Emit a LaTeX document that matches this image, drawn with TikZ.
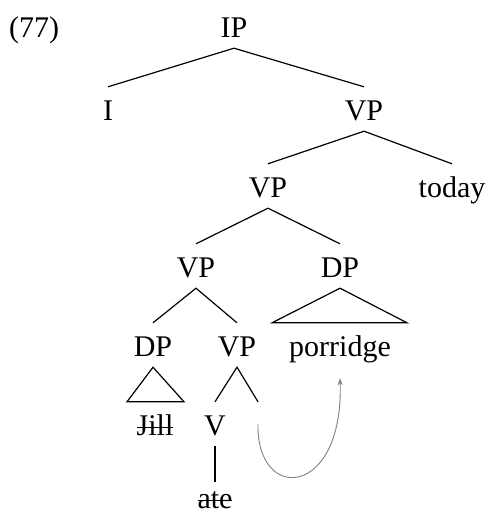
\documentclass[tikz,border=0pt]{standalone}
\usepackage{fontspec}
\setmainfont{Liberation Serif}
\usetikzlibrary{arrows.meta,calc}
% struck-through word
\newcommand{\strk}[1]{\setbox0\hbox{#1}\rlap{\rule[0.23em]{\wd0}{1pt}}\box0}
\tikzset{
  lbl/.style={anchor=base, inner xsep=0pt, inner ysep=11pt,
    text height=22pt, text depth=0pt,
    font=\fontsize{30}{36}\selectfont},
  branch/.style={line width=1.2pt, black},
  movement/.style={line width=0.9pt, draw={rgb,255:red,128;green,128;blue,128},
    -{Stealth[length=7pt,width=5pt]}},
}
\begin{document}
\begin{tikzpicture}[x=1pt,y=-1pt]
\useasboundingbox (0,0) rectangle (490,514);
% example number
\node[lbl, anchor=base west] (num) at (9,37) {(77)};
% tree labels (positions are baselines)
\node[lbl] (ip)   at (234,37)  {IP};
\node[lbl] (i)    at (108,120) {I};
\node[lbl] (vpa)  at (364,120) {VP};
\node[lbl] (vpb)  at (268,197) {VP};
\node[lbl] (today) at (452,197) {today};
\node[lbl] (vpc)  at (196,277) {VP};
\node[lbl] (dpa)  at (340,277) {DP};
\node[lbl] (dpb)  at (153,356) {DP};
\node[lbl] (vpd)  at (237,356) {VP};
\node[lbl] (porridge) at (340,356) {porridge};
\node[lbl] (jill) at (155,435) {\strk{Jill}};
\node[lbl] (v)    at (215,435) {V};
\node[lbl] (trace) at (258,435) {};
\node[lbl] (ate)  at (215,508) {\strk{ate}};
% branches
\draw[branch] (i.north) -- (ip.south) -- (vpa.north);
\draw[branch] (vpb.north) -- (vpa.south) -- (today.north);
\draw[branch] (vpc.north) -- (vpb.south) -- (dpa.north);
\draw[branch] (dpb.north) -- (vpc.south) -- (vpd.north);
\draw[branch] (v.north) -- (vpd.south) -- (trace.north);
\draw[branch, shorten >=-7pt] (v.south) -- (ate.north);
% roofs over phrases
\draw[branch] (dpa.south) -- ($(porridge.north)+(-68,0)$) -- ($(porridge.north)+(67,0)$) -- cycle;
\draw[branch] (dpb.south) -- ($(jill.north)+(-28,0)$) -- ($(jill.north)+(29,0)$) -- cycle;
% movement arrow
\coordinate (from) at ($(trace.north)+(0,22)$);
\coordinate (to) at ($(porridge.south)+(0,11)$);
\draw[movement] (from) .. controls ($(from)+(-2,80)$) and ($(to)+(4,120)$) .. (to);
\end{tikzpicture}
\end{document}
